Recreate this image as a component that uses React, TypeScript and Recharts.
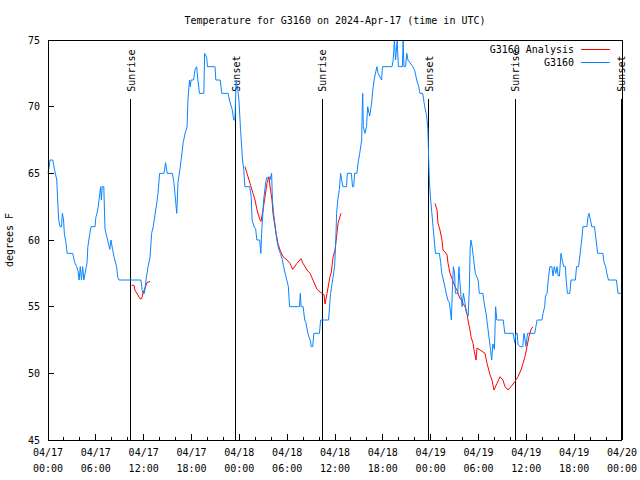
import { LineChart, Line, XAxis, YAxis, ReferenceLine, Legend } from 'recharts';

const FONT = '"DejaVu Sans Mono", "Liberation Mono", monospace';
const BLUE = '#0a84ff';
const RED = '#ff0000';

// hours since 04/17 00:00 UTC, degrees F
const observed: [number, number][] = [
  [0, 65], [0.15, 65.5], [0.25, 66], [0.6, 66], [0.85, 65.2], [1.1, 64.5], [1.25, 62.5], [1.35, 61.5], [1.5, 61], [1.7, 61],
  [1.8, 62], [1.95, 61.5], [2.05, 60.5], [2.25, 59.8], [2.4, 59], [3.1, 59], [3.35, 58.3], [3.6, 58], [3.75, 57.7], [3.9, 57],
  [4.05, 58], [4.2, 57], [4.35, 58], [4.5, 57], [4.65, 57.5], [4.9, 58.3], [5.0, 59.5], [5.25, 60.5], [5.4, 61], [5.9, 61],
  [6.0, 61.7], [6.15, 62], [6.3, 62.5], [6.5, 63.5], [6.6, 64], [6.7, 63], [6.8, 64], [7.0, 64], [7.15, 60.8], [7.4, 60.2],
  [7.75, 59.3], [7.9, 60], [8.1, 59.3], [8.3, 58.7], [8.6, 58], [8.75, 57.2], [8.9, 57], [11.65, 57], [11.8, 56.3], [11.9, 56],
  [12.1, 56], [12.3, 57], [12.55, 58], [12.8, 58.7], [13.0, 60.5], [13.2, 61], [13.4, 61.8], [13.65, 62.8], [13.8, 63.5], [14.0, 65],
  [14.55, 65], [14.75, 65.8], [14.95, 65], [15.6, 65], [15.8, 64.3], [16.15, 62], [16.3, 64.3], [16.55, 65.3], [16.8, 66.5], [16.95, 67.3],
  [17.2, 68], [17.45, 68.5], [17.55, 70.5], [17.75, 72], [17.85, 71.5], [17.95, 72], [18.25, 72], [18.45, 72.8], [18.65, 73], [18.8, 72],
  [19.0, 71], [19.55, 71], [19.65, 74], [19.9, 73.7], [20.0, 73], [20.95, 73], [21.05, 72], [21.6, 72], [21.8, 71], [22.6, 71],
  [22.75, 70.5], [23.1, 69.8], [23.3, 69], [23.45, 69], [23.6, 72], [23.8, 71.3], [23.95, 70.5], [24.15, 68.3], [24.4, 66], [24.55, 65.3],
  [24.7, 64], [25.3, 64], [25.5, 63.2], [25.6, 61.5], [25.85, 61], [26.05, 60.8], [26.2, 60], [26.55, 60], [26.7, 59], [26.8, 60.5],
  [26.95, 62], [27.05, 63], [27.3, 64.3], [27.45, 64.7], [27.85, 64.5], [28.05, 65], [28.15, 63], [28.3, 62], [28.55, 60.8], [28.7, 60],
  [28.95, 59.3], [29.15, 59], [29.4, 58.5], [29.55, 58], [29.75, 57.5], [29.95, 57], [30.15, 56.5], [30.3, 55], [31.55, 55], [31.65, 56],
  [31.75, 55], [32.0, 55], [32.2, 54], [32.35, 53.8], [32.6, 53], [32.75, 52.7], [32.95, 52.4], [33.0, 52], [33.2, 52], [33.35, 53],
  [34.05, 53], [34.2, 54], [35.2, 54], [35.35, 55.3], [35.45, 56], [35.7, 57], [35.95, 58], [36.1, 60], [36.2, 62], [36.35, 63],
  [36.55, 63.8], [36.7, 65], [36.9, 64.3], [37.0, 64], [37.45, 64], [37.55, 65], [38.05, 65], [38.2, 64], [38.35, 64], [38.45, 65],
  [38.75, 65], [38.9, 65.8], [39.1, 66.5], [39.35, 67.5], [39.42, 70], [39.48, 71], [39.55, 68.5], [39.75, 68], [39.95, 68.5], [40.1, 70],
  [40.35, 69.3], [40.6, 70.3], [40.75, 71.3], [40.9, 72], [41.25, 73], [41.4, 72.5], [41.85, 72], [41.95, 73], [43.15, 73], [43.3, 73.5],
  [43.45, 75], [43.6, 73.5], [43.8, 75], [43.95, 73], [44.45, 73], [44.55, 75], [44.65, 73], [44.85, 73], [45.0, 74], [45.15, 73.5],
  [45.4, 73.3], [45.75, 73], [46.0, 72.7], [46.25, 72], [46.5, 71.5], [46.65, 71], [47.0, 71], [47.25, 70], [47.5, 69.3], [47.65, 68.3],
  [47.75, 66], [47.85, 64.3], [48.0, 63], [48.15, 62], [48.3, 61], [48.45, 60], [48.6, 59], [49.1, 59], [49.25, 58.3], [49.4, 57.5],
  [49.6, 57], [49.95, 56], [50.15, 55.5], [50.35, 55.3], [50.5, 54.5], [50.6, 54], [50.7, 56], [50.85, 58], [51.0, 57.5], [51.1, 56],
  [51.4, 56], [51.55, 58], [51.65, 57], [51.8, 55.8], [51.95, 55], [52.1, 56], [52.3, 55.3], [52.5, 54.5], [52.7, 54.3], [52.85, 56.3],
  [52.95, 59.3], [53.05, 60], [53.2, 59.5], [53.4, 58.5], [53.6, 57.5], [53.95, 57], [54.1, 56], [54.55, 56], [54.7, 55.3], [54.95, 54.5],
  [55.05, 54], [55.4, 52.3], [55.5, 51.8], [55.65, 51], [55.8, 52.2], [56.0, 51.8], [56.15, 55], [56.3, 54], [57.1, 54], [57.2, 53.5],
  [57.3, 53], [58.35, 53], [58.55, 52.3], [58.7, 53], [58.85, 53], [58.95, 52.2], [59.2, 52], [59.55, 52], [59.7, 53], [59.85, 52.5],
  [59.95, 52], [60.15, 53], [61.05, 53], [61.2, 53.5], [61.35, 54], [61.95, 54], [62.1, 54.5], [62.3, 55], [62.4, 55.8], [62.6, 56],
  [62.75, 57], [62.95, 58], [63.2, 58], [63.35, 57.3], [63.5, 58], [63.7, 57.5], [63.85, 58], [64.0, 57.3], [64.15, 57.3], [64.35, 59],
  [64.5, 58.5], [64.7, 58], [64.9, 58], [65.0, 57], [65.15, 56], [65.45, 56], [65.6, 57], [66.15, 57], [66.3, 58], [66.55, 58],
  [66.65, 58.5], [66.85, 59.5], [67.0, 60.3], [67.1, 61], [67.6, 61], [67.75, 61.8], [67.85, 62], [68.05, 61.5], [68.2, 61], [68.55, 61],
  [68.75, 60], [68.95, 59], [69.6, 59], [69.75, 58.3], [69.95, 58], [70.1, 57.5], [70.3, 57], [71.3, 57], [71.4, 56.5], [71.5, 56],
  [71.85, 56],
];

const analysisDay17: [number, number][] = [
  [10.5, 56.6], [10.8, 56.6], [10.9, 56.25], [11.54, 55.6], [11.75, 55.6], [11.92, 56], [12.17, 56.4], [12.42, 56.8], [12.8, 56.9],
];

const analysisNight18: [number, number][] = [
  [24.71, 65.5], [24.96, 65], [25.34, 64.25], [25.59, 63.75], [25.97, 63], [26.22, 62.25], [26.6, 61.5], [26.72, 61.4], [26.97, 62.25],
  [27.22, 63.25], [27.47, 64.25], [27.72, 64.75], [27.85, 64], [28.1, 63], [28.22, 62], [28.47, 61], [28.6, 60.5], [28.85, 59.75],
  [29.1, 59.25], [29.48, 58.75], [29.98, 58.5], [30.36, 58.25], [30.7, 57.8], [31.23, 58.25], [31.74, 58.6], [31.99, 58.25],
  [32.49, 57.75], [32.87, 57.5], [33.24, 57], [33.74, 56.3], [34.12, 56.1], [34.37, 56], [34.62, 55.9], [34.75, 55.2], [35.0, 56],
  [35.37, 57.25], [35.55, 57.6], [35.75, 58.7], [36.0, 59.25], [36.25, 60.5], [36.38, 61.25], [36.75, 62],
];

const analysisNight19: [number, number][] = [
  [48.54, 62.75], [48.8, 62.25], [48.92, 61.25], [49.17, 60.75], [49.42, 60], [49.55, 59.25], [49.8, 59.1], [50.05, 58.9],
  [50.18, 58.25], [50.43, 57.5], [50.68, 57.1], [51.05, 56.5], [51.3, 56.25], [51.43, 56], [51.68, 55.6], [51.93, 55.5],
  [52.06, 55.25], [52.31, 55], [52.56, 54.5], [52.68, 54], [52.93, 53.25], [53.06, 52.75], [53.31, 52.25], [53.44, 51.75],
  [53.69, 51], [53.81, 51.9], [54.19, 51.75], [54.82, 51.5], [55.07, 50.75], [55.44, 49.9], [55.69, 49.5], [55.94, 48.75],
  [56.32, 49.25], [56.7, 49.75], [57.07, 49.5], [57.32, 49], [57.7, 48.75], [58.08, 49], [58.58, 49.4], [58.96, 49.75],
  [59.33, 50.25], [59.58, 50.75], [59.83, 51.25], [60.08, 52], [60.33, 52.75], [60.59, 53.3], [60.84, 53.5],
];

const sunHours = [10.41, 23.58, 34.37, 47.79, 58.58, 71.88];
const sunNames = ['Sunrise', 'Sunset', 'Sunrise', 'Sunset', 'Sunrise', 'Sunset'];
const sunLineTop = 70.6;

const tickDays = ['04/17', '04/18', '04/19', '04/20'];
const tickTimes = ['00:00', '06:00', '12:00', '18:00'];
const xTicks = Array.from({ length: 37 }, (_, i) => i * 2);
const yTicks = [45, 50, 55, 60, 65, 70, 75];

const rows = (pts: [number, number][]) => pts.map(([h, t]) => ({ h, t }));

const BottomTick = ({ x, y, payload }: any) => {
  const h = payload.value;
  const major = h % 6 === 0;
  return (
    <g>
      <line x1={x} x2={x} y1={y} y2={y - (major ? 6 : 3)} stroke="#000" shapeRendering="crispEdges" />
      {major && (
        <text x={x} y={y} textAnchor="middle" fontFamily={FONT} fontSize={10} fill="#000">
          <tspan x={x} dy={15.5}>{tickDays[Math.floor(h / 24)]}</tspan>
          <tspan x={x} dy={16}>{tickTimes[(h % 24) / 6]}</tspan>
        </text>
      )}
    </g>
  );
};

const TopTick = ({ x, y, payload }: any) => {
  const major = payload.value % 6 === 0;
  return <line x1={x} x2={x} y1={y} y2={y + (major ? 6 : 3)} stroke="#000" shapeRendering="crispEdges" />;
};

const LeftTick = ({ x, y, payload }: any) => (
  <g>
    <line x1={x} x2={x + 6} y1={y} y2={y} stroke="#000" shapeRendering="crispEdges" />
    <text x={x - 8} y={y + 3.5} textAnchor="end" fontFamily={FONT} fontSize={10} fill="#000">
      {payload.value}
    </text>
  </g>
);

const RightTick = ({ x, y }: any) => (
  <line x1={x} x2={x - 6} y1={y} y2={y} stroke="#000" shapeRendering="crispEdges" />
);

const SunLabel = (name: string) => (props: any) => {
  const { x, y } = props.viewBox;
  return (
    <text
      x={x + 4}
      y={y - 7}
      transform={`rotate(-90 ${x + 4} ${y - 7})`}
      textAnchor="start"
      fontFamily={FONT}
      fontSize={10}
      fill="#000"
    >
      {name}
    </text>
  );
};

const LegendBox = () => (
  <svg width={150} height={28} style={{ display: 'block', overflow: 'visible' }}>
    <text x={114} y={10.5} textAnchor="end" fontFamily={FONT} fontSize={10} fill="#000">G3160 Analysis</text>
    <line x1={121} x2={150} y1={7} y2={7} stroke={RED} shapeRendering="crispEdges" />
    <text x={114} y={23.5} textAnchor="end" fontFamily={FONT} fontSize={10} fill="#000">G3160</text>
    <line x1={121} x2={150} y1={20} y2={20} stroke={BLUE} shapeRendering="crispEdges" />
  </svg>
);

const axisStroke = { stroke: '#000', shapeRendering: 'crispEdges' };

export default function App() {
  return (
    <div style={{ position: 'absolute', left: 0, top: 0, width: 640, height: 480, background: '#fff' }}>
      <LineChart width={640} height={480} margin={{ top: 0, right: 0, bottom: 0, left: 0 }}>
        <XAxis
          xAxisId="bottom"
          dataKey="h"
          type="number"
          domain={[0, 72]}
          ticks={xTicks}
          interval={0}
          height={40}
          tickSize={0}
          tickMargin={0}
          tickLine={false}
          axisLine={axisStroke}
          tick={<BottomTick />}
        />
        <XAxis
          xAxisId="top"
          orientation="top"
          type="number"
          domain={[0, 72]}
          ticks={xTicks}
          interval={0}
          height={40}
          tickSize={0}
          tickMargin={0}
          tickLine={false}
          axisLine={axisStroke}
          tick={<TopTick />}
          label={{
            content: () => (
              <text x={335} y={23.5} textAnchor="middle" fontFamily={FONT} fontSize={10} fill="#000">
                Temperature for G3160 on 2024-Apr-17 (time in UTC)
              </text>
            ),
          }}
        />
        <YAxis
          yAxisId="left"
          type="number"
          domain={[45, 75]}
          ticks={yTicks}
          interval={0}
          width={48}
          tickSize={0}
          tickMargin={0}
          tickLine={false}
          axisLine={axisStroke}
          tick={<LeftTick />}
          label={{
            content: () => (
              <text x={13} y={240} transform="rotate(-90 13 240)" textAnchor="middle" fontFamily={FONT} fontSize={10} fill="#000">
                degrees F
              </text>
            ),
          }}
        />
        <YAxis
          yAxisId="right"
          orientation="right"
          type="number"
          domain={[45, 75]}
          ticks={yTicks}
          interval={0}
          width={18}
          tickSize={0}
          tickMargin={0}
          tickLine={false}
          axisLine={axisStroke}
          tick={<RightTick />}
        />
        <Legend
          layout="horizontal"
          verticalAlign="middle"
          align="center"
          wrapperStyle={{ left: 460, top: 42, width: 150, height: 28 }}
          content={() => <LegendBox />}
        />
        {sunHours.map((h, i) => (
          <ReferenceLine
            key={i}
            xAxisId="bottom"
            yAxisId="left"
            segment={[{ x: h, y: 45 }, { x: h, y: sunLineTop }]}
            stroke="#000"
            strokeWidth={1}
            shapeRendering="crispEdges"
            ifOverflow="visible"
            label={{ content: SunLabel(sunNames[i]) }}
          />
        ))}
        <Line
          xAxisId="bottom"
          yAxisId="left"
          data={rows(analysisDay17)}
          dataKey="t"
          stroke={RED}
          strokeWidth={1}
          dot={false}
          isAnimationActive={false}
        />
        <Line
          xAxisId="bottom"
          yAxisId="left"
          data={rows(analysisNight18)}
          dataKey="t"
          stroke={RED}
          strokeWidth={1}
          dot={false}
          isAnimationActive={false}
        />
        <Line
          xAxisId="bottom"
          yAxisId="left"
          data={rows(analysisNight19)}
          dataKey="t"
          stroke={RED}
          strokeWidth={1}
          dot={false}
          isAnimationActive={false}
        />
        <Line
          xAxisId="bottom"
          yAxisId="left"
          data={rows(observed)}
          dataKey="t"
          stroke={BLUE}
          strokeWidth={1}
          dot={false}
          isAnimationActive={false}
        />
      </LineChart>
    </div>
  );
}
